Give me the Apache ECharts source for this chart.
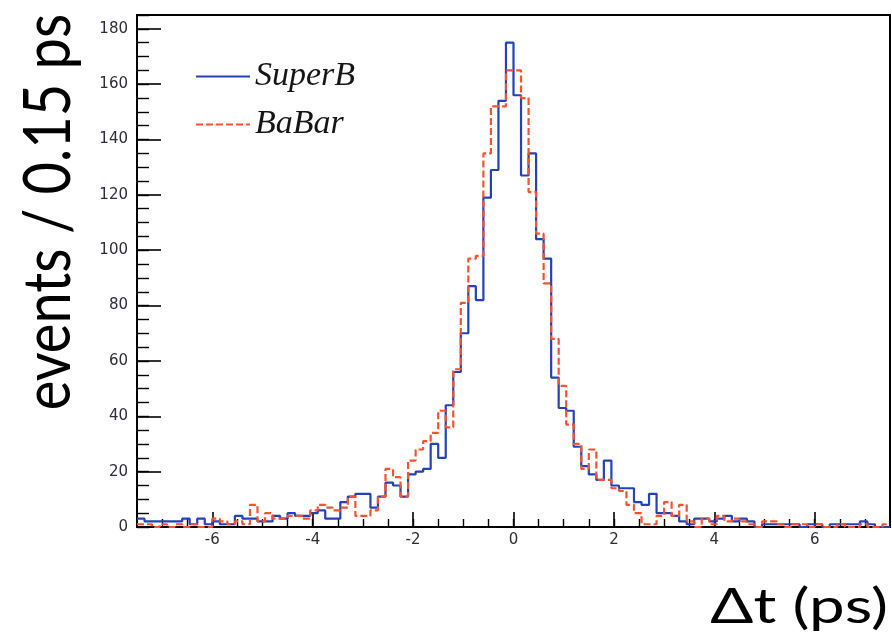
<!DOCTYPE html>
<html>
<head>
<meta charset="utf-8">
<script src="https://cdn.jsdelivr.net/npm/echarts@6/dist/echarts.min.js"></script>
<style>
  html, body { margin: 0; padding: 0; background: #fff; }
  #chart { width: 892px; height: 639px; }
</style>
</head>
<body>
<div id="chart"></div>
<script>
// Δt distribution, 100 bins of 0.15 ps between -7.5 and 7.5 ps
const binLow = -7.5;
const binWidth = 0.15;

const superB = [
  3, 2, 2, 2, 2, 2, 3, 1, 3, 1,
  2, 1, 1, 4, 3, 3, 2, 2, 4, 3,
  5, 4, 4, 5, 6, 3, 3, 9, 11, 12,
  12, 7, 11, 16, 15, 11, 19, 20, 21, 30,
  25, 44, 56, 70, 87, 82, 119, 129, 154, 175,
  156, 127, 135, 104, 97, 54, 43, 42, 29, 22,
  19, 17, 24, 15, 14, 14, 9, 8, 12, 5,
  5, 4, 2, 1, 3, 3, 2, 3, 4, 2,
  3, 2, 0, 1, 1, 1, 1, 1, 0, 1,
  1, 0, 1, 1, 1, 1, 2, 1, 0, 0
];

const baBar = [
  1, 1, 0, 1, 0, 1, 0, 1, 0, 0,
  3, 2, 1, 2, 1, 8, 2, 5, 3, 3,
  4, 4, 3, 6, 8, 7, 6, 7, 11, 4,
  4, 6, 11, 21, 18, 11, 24, 28, 31, 34,
  42, 36, 57, 81, 97, 98, 135, 152, 152, 165,
  165, 155, 121, 106, 88, 68, 51, 37, 30, 21,
  28, 17, 17, 14, 13, 8, 5, 1, 1, 4,
  9, 4, 8, 2, 0, 3, 1, 4, 2, 3,
  2, 1, 0, 2, 2, 1, 0, 1, 1, 0,
  1, 0, 0, 1, 0, 0, 1, 0, 0, 1
];

const xMajorTicks = [-6, -4, -2, 0, 2, 4, 6];
const yMajorTicks = [0, 20, 40, 60, 80, 100, 120, 140, 160, 180];

// minor tick positions: every 0.5 ps on x, every 5 events on y
const xMinorTicks = [];
for (let v = -7; v <= 7.001; v += 0.5) xMinorTicks.push(+v.toFixed(2));
const yMinorTicks = [];
for (let v = 0; v <= 185; v += 5) yMinorTicks.push(v);

// step outline: each bin's low edge carries its content, last edge closes the final bin
function histPoints(counts) {
  const pts = counts.map((c, i) => [+(binLow + i * binWidth).toFixed(4), c]);
  pts.push([+(binLow + counts.length * binWidth).toFixed(4), counts[counts.length - 1]]);
  return pts;
}

const BLUE = '#2342b8';
const RED = '#f5532f';
const tickFont = { fontFamily: 'DejaVu Sans', fontSize: 15, color: '#2d2d3a' };

const chart = echarts.init(document.getElementById('chart'), null, { renderer: 'canvas' });

chart.setOption({
  animation: false,
  backgroundColor: '#fff',
  grid: {
    left: 137, right: 2, top: 15, bottom: 112,
    show: true, borderColor: '#000', borderWidth: 2, backgroundColor: 'transparent'
  },
  legend: {
    orient: 'vertical',
    left: 190, top: 54,
    itemWidth: 54, itemHeight: 14, itemGap: 13,
    data: ['SuperB', 'BaBar'],
    itemStyle: { opacity: 0 },
    textStyle: {
      fontFamily: 'Liberation Serif', fontStyle: 'italic', fontSize: 34,
      lineHeight: 35, color: '#151515'
    }
  },
  xAxis: [
    {
      type: 'value', min: -7.5, max: 7.5, position: 'bottom',
      axisLine: { show: true, onZero: false, lineStyle: { color: '#000', width: 2 } },
      axisTick: { show: true, inside: true, length: 15, customValues: xMajorTicks,
                  lineStyle: { color: '#000', width: 1.6 } },
      axisLabel: { show: true, customValues: xMajorTicks, margin: 6, ...tickFont },
      splitLine: { show: false }
    },
    {
      type: 'value', min: -7.5, max: 7.5, position: 'bottom',
      axisLine: { show: false, onZero: false },
      axisTick: { show: true, inside: true, length: 8, customValues: xMinorTicks,
                  lineStyle: { color: '#000', width: 1.4 } },
      axisLabel: { show: false },
      splitLine: { show: false }
    }
  ],
  yAxis: [
    {
      type: 'value', min: 0, max: 185, position: 'left',
      axisLine: { show: true, onZero: false, lineStyle: { color: '#000', width: 2 } },
      axisTick: { show: true, inside: true, length: 24, customValues: yMajorTicks,
                  lineStyle: { color: '#000', width: 1.6 } },
      axisLabel: { show: true, customValues: yMajorTicks, margin: 9, ...tickFont },
      splitLine: { show: false }
    },
    {
      type: 'value', min: 0, max: 185, position: 'left',
      axisLine: { show: false, onZero: false },
      axisTick: { show: true, inside: true, length: 12, customValues: yMinorTicks,
                  lineStyle: { color: '#000', width: 1.4 } },
      axisLabel: { show: false },
      splitLine: { show: false }
    }
  ],
  series: [
    {
      name: 'SuperB', type: 'line', step: 'end',
      xAxisIndex: 0, yAxisIndex: 0,
      data: histPoints(superB),
      symbol: 'none', color: BLUE,
      lineStyle: { color: BLUE, width: 2.2 },
      z: 3
    },
    {
      name: 'BaBar', type: 'line', step: 'end',
      xAxisIndex: 0, yAxisIndex: 0,
      data: histPoints(baBar),
      symbol: 'none', color: RED,
      lineStyle: { color: RED, width: 2.2, type: [7, 3] },
      z: 4
    }
  ],
  graphic: [
    {
      type: 'text',
      x: 49, y: 212,
      rotation: Math.PI / 2,
      scaleY: 1.18,
      style: {
        text: 'events / 0.15 ps',
        font: '56px Lato, "Open Sans", sans-serif',
        fill: '#000',
        textAlign: 'center',
        textVerticalAlign: 'middle'
      }
    },
    {
      type: 'text',
      x: 888, y: 607,
      scaleX: 1.3,
      style: {
        text: 'Δt (ps)',
        font: '49px Lato, "Open Sans", sans-serif',
        fill: '#000',
        textAlign: 'right',
        textVerticalAlign: 'middle'
      }
    }
  ]
});
</script>
</body>
</html>
